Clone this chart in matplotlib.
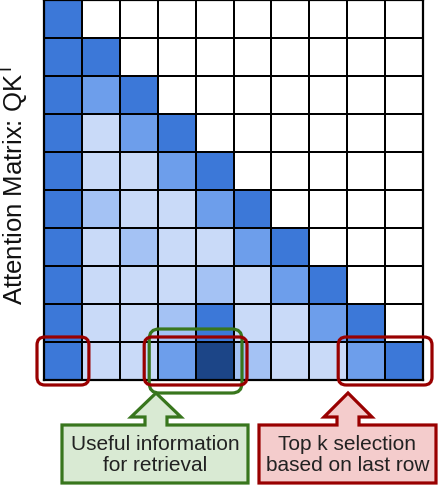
import numpy as np
import matplotlib
matplotlib.use("Agg")
import matplotlib.pyplot as plt
from matplotlib.colors import ListedColormap, BoundaryNorm
from matplotlib.patches import FancyBboxPatch, Polygon

plt.rcParams['font.family'] = ['Liberation Sans', 'DejaVu Sans']
plt.rcParams['mathtext.fontset'] = 'custom'
plt.rcParams['mathtext.rm'] = 'Liberation Sans'
plt.rcParams['mathtext.it'] = 'Liberation Sans:italic'

# attention levels per cell, 0 = masked (white), 5 = strongest
attn = [
    [4, 0, 0, 0, 0, 0, 0, 0, 0, 0],
    [4, 4, 0, 0, 0, 0, 0, 0, 0, 0],
    [4, 3, 4, 0, 0, 0, 0, 0, 0, 0],
    [4, 1, 3, 4, 0, 0, 0, 0, 0, 0],
    [4, 1, 1, 3, 4, 0, 0, 0, 0, 0],
    [4, 2, 1, 1, 3, 4, 0, 0, 0, 0],
    [4, 1, 2, 1, 1, 3, 4, 0, 0, 0],
    [4, 1, 1, 1, 2, 1, 3, 4, 0, 0],
    [4, 1, 1, 2, 4, 1, 1, 3, 4, 0],
    [4, 1, 1, 3, 5, 2, 1, 1, 3, 4],
]
level_colors = ['#ffffff', '#c9daf8', '#a4c2f4', '#6d9eeb', '#3c78d8', '#1c4587']
ylabel = "Attention Matrix: QK$^\\mathrm{T}$"
# (row, first col, last col) of highlighted cells
topk_cells = [(9, 0, 0), (9, 3, 4), (9, 8, 9)]
useful_cells = (9, 3, 4)
green_text = "Useful information\nfor retrieval"
red_text = "Top k selection\nbased on last row"

W, H = 438, 486
fig = plt.figure(figsize=(W / 100, H / 100), dpi=100)

# heatmap axes, placed in pixels
gx0, gx1, gy0, gy1 = 44, 423, 0, 380
ax = fig.add_axes([gx0 / W, 1 - gy1 / H, (gx1 - gx0) / W, (gy1 - gy0) / H])
data = np.array(attn)
cmap = ListedColormap(level_colors)
norm = BoundaryNorm(np.arange(-0.5, len(level_colors)), cmap.N)
ax.pcolormesh(data, cmap=cmap, norm=norm, edgecolors='black', linewidth=1.4)
ax.set_xlim(0, data.shape[1])
ax.set_ylim(data.shape[0], 0)
ax.set_xticks([])
ax.set_yticks([])
for s in ax.spines.values():
    s.set_linewidth(1.6)

fig.text(15 / W, 1 - 183 / H, ylabel, rotation=90, ha='center', va='center',
         fontsize=18.5, color='#111111')

# overlay in pixel coordinates for the callouts
ov = fig.add_axes([0, 0, 1, 1], zorder=5)
ov.set_xlim(0, W)
ov.set_ylim(H, 0)
ov.axis('off')

cw = (gx1 - gx0) / data.shape[1]
ch = (gy1 - gy0) / data.shape[0]


def cell_box(row, c0, c1, padx, pady):
    x0 = gx0 + c0 * cw - padx
    x1 = gx0 + (c1 + 1) * cw + padx
    y0 = gy0 + row * ch - pady
    y1 = gy0 + (row + 1) * ch + pady
    return x0, y0, x1 - x0, y1 - y0


r, a, b = useful_cells
x, y, w, h = cell_box(r, a, b, 8.5, 13)
ov.add_patch(FancyBboxPatch((x, y), w, h, boxstyle="round,pad=0,rounding_size=10",
                            fill=False, edgecolor='#38761d', linewidth=2.3))

pads = [(7, 5), (13.5, 5), (9, 5)]
for (r, a, b), (px, py) in zip(topk_cells, pads):
    x, y, w, h = cell_box(r, a, b, px, py)
    ov.add_patch(FancyBboxPatch((x, y), w, h, boxstyle="round,pad=0,rounding_size=8",
                                fill=False, edgecolor='#990000', linewidth=2.3))


def callout(bx0, bx1, by0, by1, cx, tip, head_y, head_w, shaft_w, face, edge, text):
    pts = [(bx0, by1), (bx0, by0), (cx - shaft_w, by0), (cx - shaft_w, head_y),
           (cx - head_w, head_y), (cx, tip), (cx + head_w, head_y),
           (cx + shaft_w, head_y), (cx + shaft_w, by0), (bx1, by0), (bx1, by1)]
    ov.add_patch(Polygon(pts, closed=True, facecolor=face, edgecolor=edge,
                         linewidth=2.3, joinstyle='miter'))
    ov.text((bx0 + bx1) / 2, (by0 + by1) / 2 + 1, text, ha='center', va='center',
            fontsize=15, color='#222222', linespacing=1.1)


callout(62, 248, 425, 483, 156, 393, 417, 25, 11, '#d9ead3', '#38761d', green_text)
callout(259, 436, 425, 483, 348, 393, 417, 24, 11, '#f4cccc', '#990000', red_text)

fig.savefig("out.png", dpi=100)
